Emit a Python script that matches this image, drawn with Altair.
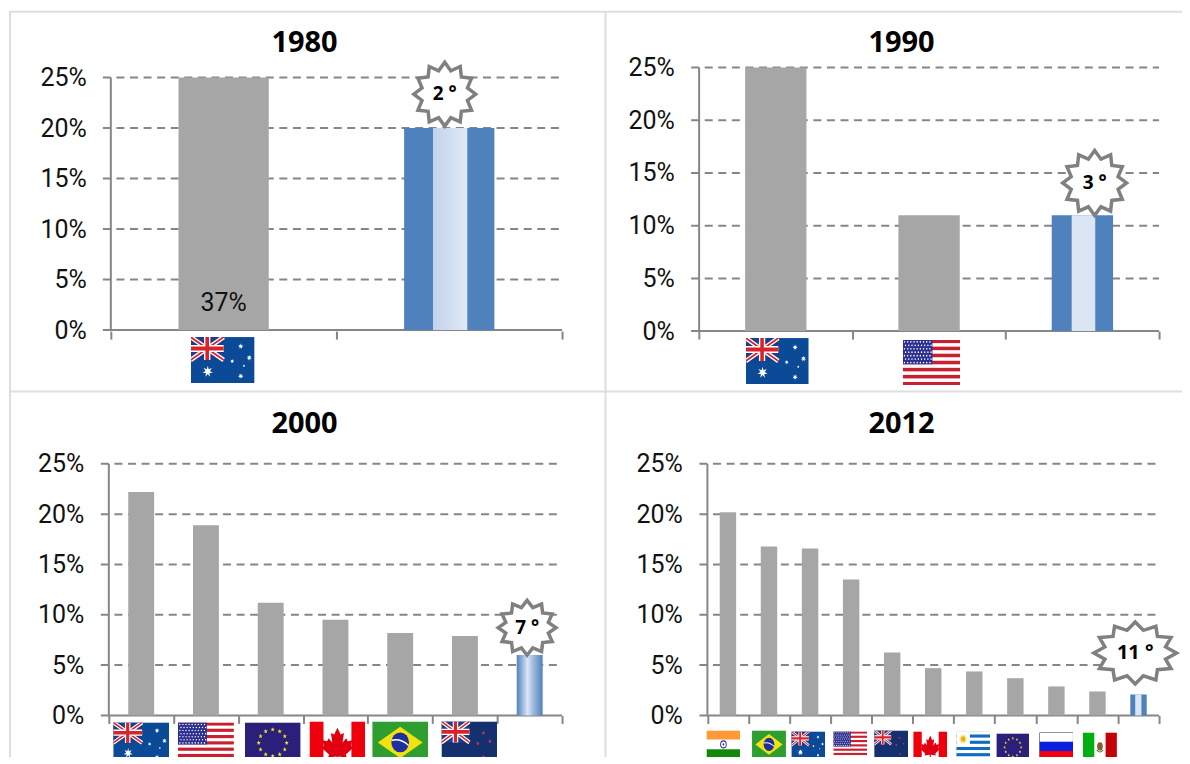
import base64
import math
import altair as alt
import pandas as pd

# ---------- data ----------
CATS_1980 = ["Australia", "Argentina"]
VALUES_1980 = [37, 20]
CATS_1990 = ["Australia", "USA", "Argentina"]
VALUES_1990 = [25, 11, 11]
CATS_2000 = ["Australia", "USA", "EU", "Canada", "Brazil", "New Zealand", "Argentina"]
VALUES_2000 = [22.2, 18.9, 11.2, 9.5, 8.2, 7.9, 6.0]
CATS_2012 = ["India", "Brazil", "Australia", "USA", "New Zealand", "Canada", "Uruguay",
             "EU", "Russia", "Mexico", "Argentina"]
VALUES_2012 = [20.2, 16.8, 16.6, 13.5, 6.25, 4.7, 4.37, 3.7, 2.88, 2.38, 2.08]
Y_TICKS = [0, 5, 10, 15, 20, 25]

GREY = "#A6A6A6"
BLUE = "#4F81BD"
LINE = "#868686"
FRAME = "#DEDEDE"
NARROW = "Roboto"
NARROW_SIZE = 25
BOLD = "Open Sans"


# ---------- flag artwork ----------
def star_pts(cx, cy, r, n=5, inner=0.42, rot=-90):
    pts = []
    for i in range(2 * n):
        a = math.radians(rot + i * 180 / n)
        rr = r if i % 2 == 0 else r * inner
        pts.append(f"{cx + rr * math.cos(a):.2f},{cy + rr * math.sin(a):.2f}")
    return " ".join(pts)


def star(cx, cy, r, fill="#fff", n=5):
    return f'<polygon points="{star_pts(cx, cy, r, n)}" fill="{fill}"/>'


def jack(w, h):
    return (
        f'<rect width="{w}" height="{h}" fill="#1F3C88"/>'
        f'<path d="M0 0L{w} {h}M{w} 0L0 {h}" stroke="#fff" stroke-width="{h*0.2}"/>'
        f'<path d="M0 0L{w} {h}M{w} 0L0 {h}" stroke="#D8232A" stroke-width="{h*0.08}"/>'
        f'<path d="M{w/2} 0V{h}M0 {h/2}H{w}" stroke="#fff" stroke-width="{h*0.3}"/>'
        f'<path d="M{w/2} 0V{h}M0 {h/2}H{w}" stroke="#D8232A" stroke-width="{h*0.17}"/>'
    )


def flag_au():
    return ('<rect width="60" height="40" fill="#0B4A96"/>' + jack(31, 20)
            + star(16, 30, 5, n=7) + star(47, 8, 2.6, n=7) + star(47, 34, 2.6, n=7)
            + star(55, 18, 2.6, n=7) + star(39, 21, 2, n=7) + star(50, 25, 1.3))


def flag_nz():
    return ('<rect width="60" height="40" fill="#14306F"/>' + jack(30, 20)
            + "".join(star(x, y, 2.2, "#C8384E") for x, y in [(45, 11), (52, 19), (39, 21), (45, 34)]))


def flag_us():
    s = '<rect width="60" height="40" fill="#fff"/>'
    for i in range(7):
        s += f'<rect y="{i*40/6.5:.2f}" width="60" height="3.08" fill="#C8202F"/>'
    s += '<rect width="31" height="21.5" fill="#2B2F8F"/>'
    for r in range(7):
        for c in range(9):
            s += f'<circle cx="{2 + c*3.3 + (r % 2)*1.2:.1f}" cy="{2 + r*3}" r="0.75" fill="#fff"/>'
    return s


def flag_eu():
    s = '<rect width="60" height="40" fill="#2A1F7A"/>'
    for i in range(12):
        a = math.radians(i * 30)
        s += star(30 + 15 * math.cos(a), 20 + 13 * math.sin(a), 2.4, "#F2E124")
    return s


def flag_ca():
    leaf = ("M30 6L33.5 12.5L37 11L35.5 20L39.5 16L41 19L46 18L44.5 23.5L47 25L39 31.5L40 34.5"
            "L31 33.5V40H29V33.5L20 34.5L21 31.5L13 25L15.5 23.5L14 18L19 19L20.5 16L24.5 20L23 11L26.5 12.5Z")
    return ('<rect width="60" height="40" fill="#fff"/>'
            '<rect width="15" height="40" fill="#F0000A"/><rect x="45" width="15" height="40" fill="#F0000A"/>'
            f'<path d="{leaf}" fill="#E00010"/>')


def flag_br():
    return ('<rect width="60" height="40" fill="#2E9E30"/>'
            '<polygon points="30,5 54,20 30,35 6,20" fill="#F4E20F"/>'
            '<circle cx="30" cy="20" r="9.5" fill="#1F2F9E"/>'
            '<path d="M21 18Q31 16 39 23" stroke="#fff" stroke-width="1.5" fill="none"/>')


def flag_in():
    return ('<rect width="60" height="40" fill="#fff"/>'
            '<rect width="60" height="13" fill="#FF9933"/><rect y="27" width="60" height="13" fill="#138808"/>'
            '<circle cx="30" cy="20" r="5" fill="none" stroke="#2B2F8F" stroke-width="1.6"/>'
            '<circle cx="30" cy="20" r="1.6" fill="#2B2F8F"/>')


def flag_uy():
    s = '<rect width="60" height="40" fill="#fff" stroke="#888" stroke-width="0.5"/>'
    for i in (1, 3, 5, 7):
        s += f'<rect y="{i*40/9:.2f}" width="60" height="4.44" fill="#0F6CC0"/>'
    s += '<rect width="24" height="22" fill="#fff"/>'
    s += star(12, 11, 8, "#F5C518", n=12) + '<circle cx="12" cy="11" r="3.6" fill="#E8B010"/>'
    return s


def flag_ru():
    return ('<rect width="60" height="40" fill="#fff"/><rect y="13.3" width="60" height="13.3" fill="#0A1FE0"/>'
            '<rect y="26.6" width="60" height="13.4" fill="#F00010"/>'
            '<rect width="60" height="40" fill="none" stroke="#222" stroke-width="1.6"/>')


def flag_mx():
    return ('<rect width="60" height="40" fill="#fff"/><rect width="20" height="40" fill="#00B010"/>'
            '<rect x="40" width="20" height="40" fill="#C40008"/>'
            '<ellipse cx="30" cy="20" rx="5" ry="6" fill="#8A5A30"/>'
            '<path d="M24 25Q30 31 36 25" stroke="#3F8A3F" stroke-width="1.6" fill="none"/>')


def uri(body):
    doc = ('<svg xmlns="http://www.w3.org/2000/svg" width="60" height="40" viewBox="0 0 60 40" '
           f'preserveAspectRatio="none">{body}</svg>')
    return "data:image/svg+xml;base64," + base64.b64encode(doc.encode()).decode()


FLAGS = {"Australia": flag_au, "USA": flag_us, "EU": flag_eu, "Canada": flag_ca, "Brazil": flag_br,
         "New Zealand": flag_nz, "India": flag_in, "Uruguay": flag_uy, "Russia": flag_ru, "Mexico": flag_mx}


def badge_path(rx, ry, points=12, inner=0.76):
    big = max(rx, ry)
    d = []
    for i in range(2 * points):
        a = -math.pi / 2 + i * math.pi / points
        k = 1 if i % 2 == 0 else inner
        d.append(f"{rx / big * k * math.cos(a):.4f},{ry / big * k * math.sin(a):.4f}")
    return "M" + "L".join(d) + "Z"


def h_gradient(stops):
    return alt.LinearGradient(gradient="linear", x1=0, x2=1, y1=0, y2=0,
                              stops=[alt.GradientStop(color=c, offset=o) for c, o in stops])


# ---------- one panel ----------
def panel(year, cats, values, x_start, width, y_range, height, title_x, title_y, label_pad,
          flag_layout, badge, stripe=None, gradient=False, extra=None, value_label=None):
    n = len(cats)
    sx = alt.Scale(domain=[0, n], range=[x_start, width], nice=False, zero=False)
    sy = alt.Scale(domain=[0, 25], range=y_range, nice=False, clamp=True)
    ax_x = alt.Axis(title=None, labels=False, grid=False, domain=False, values=list(range(n + 1)),
                    tickSize=8, tickWidth=2, tickColor=LINE)
    ax_y = alt.Axis(title=None, grid=False, domain=False, ticks=False, values=Y_TICKS,
                    labelExpr="datum.value + '%'", labelFont=NARROW, labelFontSize=NARROW_SIZE,
                    labelColor="#111111", labelPadding=label_pad)

    def X(f):
        return alt.X(f"{f}:Q", scale=sx, axis=ax_x)

    def Y(f):
        return alt.Y(f"{f}:Q", scale=sy, axis=ax_y)

    bars = pd.DataFrame({"cat": cats, "value": values,
                         "x0": [i + 0.3 for i in range(n)], "x1": [i + 0.7 for i in range(n)],
                         "base": [0] * n})
    grid = pd.DataFrame({"y": Y_TICKS[1:], "a": [0] * 5, "b": [n] * 5})
    zero = pd.DataFrame({"y": [0], "a": [0], "b": [n]})
    spine = pd.DataFrame({"a": [0], "y0": [0], "y1": [25]})

    layers = list(extra or [])
    layers.append(alt.Chart(grid).mark_rule(color=LINE, strokeWidth=2, strokeDash=[8, 5.6], xOffset=-8)
                  .encode(x=X("a"), x2=alt.X2("b"), y=Y("y")))
    layers.append(alt.Chart(zero).mark_rule(color=LINE, strokeWidth=2, xOffset=-8)
                  .encode(x=X("a"), x2=alt.X2("b"), y=Y("y")))
    layers.append(alt.Chart(spine).mark_rule(color=LINE, strokeWidth=2)
                  .encode(x=X("a"), y=Y("y0"), y2=alt.Y2("y1")))

    grey = bars.iloc[:-1]
    last = bars.iloc[[-1]]
    layers.append(alt.Chart(grey).mark_rect(color=GREY)
                  .encode(x=X("x0"), x2=alt.X2("x1"), y=Y("value"), y2=alt.Y2("base")))
    if gradient:
        fill = h_gradient([(BLUE, 0), ("#DCE6F4", 0.42), ("#A9C0DF", 0.6), (BLUE, 1)])
        layers.append(alt.Chart(last).mark_rect(color=fill)
                      .encode(x=X("x0"), x2=alt.X2("x1"), y=Y("value"), y2=alt.Y2("base")))
    else:
        layers.append(alt.Chart(last).mark_rect(color=BLUE)
                      .encode(x=X("x0"), x2=alt.X2("x1"), y=Y("value"), y2=alt.Y2("base")))
        left, right, c0, c1 = stripe
        st = last.assign(sa=n - 1 + 0.3 + 0.4 * left, sb=n - 1 + 0.3 + 0.4 * right)
        layers.append(alt.Chart(st).mark_rect(color=h_gradient([(c0, 0), (c1, 1)]))
                      .encode(x=X("sa"), x2=alt.X2("sb"), y=Y("value"), y2=alt.Y2("base")))

    # flags under the axis
    for i, (code, dx, dy, w, h) in enumerate(flag_layout):
        d = pd.DataFrame({"x": [i + 0.5], "y": [0], "img": [uri(FLAGS[code]())]})
        layers.append(alt.Chart(d).mark_image(width=w, height=h, aspect=False, align="center",
                                              baseline="top", xOffset=dx, yOffset=dy)
                      .encode(x=X("x"), y=Y("y"), url="img:N"))

    # rank badge
    bx, by, rx, ry, label, size = badge
    b = pd.DataFrame({"x": [bx], "y": [by], "t": [label]})
    layers.append(alt.Chart(b).mark_point(shape=badge_path(rx, ry), size=(2 * max(rx, ry)) ** 2,
                                          filled=True, fill="#FFFFFF", stroke="#808080",
                                          strokeWidth=3.5, opacity=1, strokeJoin="miter")
                  .encode(x=X("x"), y=Y("y")))
    layers.append(alt.Chart(b).mark_text(font=BOLD, fontWeight="bold", fontSize=size, color="#000000",
                                         align="center", baseline="middle")
                  .encode(x=X("x"), y=Y("y"), text="t:N"))

    if value_label:
        vx, vy, vt = value_label
        lab = pd.DataFrame({"x": [vx], "y": [vy], "t": [vt]})
        layers.append(alt.Chart(lab).mark_text(font=NARROW, fontSize=NARROW_SIZE, color="#111111")
                      .encode(x=X("x"), y=Y("y"), text="t:N"))

    # panel title
    t = pd.DataFrame({"t": [year]})
    layers.append(alt.Chart(t).mark_text(font=BOLD, fontWeight="bold", fontSize=29, color="#000000",
                                         align="center", baseline="alphabetic")
                  .encode(x=alt.value(title_x), y=alt.value(title_y), text="t:N"))
    return alt.layer(*layers).properties(width=width, height=height)


# table frame, page pixel positions minus the first panel's origin
frame_df = pd.DataFrame({"k": [0]})
frame = [
    alt.Chart(frame_df).mark_rule(color=FRAME, strokeWidth=2).encode(x=alt.value(-99), y=alt.value(-56), y2=alt.value(697)),
    alt.Chart(frame_df).mark_rule(color=FRAME, strokeWidth=2).encode(x=alt.value(497.5), y=alt.value(-56), y2=alt.value(697)),
    alt.Chart(frame_df).mark_rule(color=FRAME, strokeWidth=2).encode(x=alt.value(-100), x2=alt.value(1082), y=alt.value(-56)),
    alt.Chart(frame_df).mark_rule(color=FRAME, strokeWidth=2).encode(x=alt.value(-100), x2=alt.value(1082), y=alt.value(324.5)),
]

p1 = panel("1980", CATS_1980, VALUES_1980, 2, 454, [263, 10], 264, 196, -16, 22.5,
           [("Australia", -1, 7, 64, 46)],
           (1.48, 23.35, 31, 32, "2 °", 19), stripe=(0.32, 0.7, "#C3D3ED", "#E0E8F5"), extra=frame,
           value_label=(0.5, 2.7, "37%"))
p2 = panel("1990", CATS_1990, VALUES_1990, 1.3, 462, [264, 0], 264, 204, -16, 23.5,
           [("Australia", 1.5, 7, 63, 46), ("USA", 2.4, 8.5, 58, 46)],
           (2.58, 14.05, 32, 32.5, "3 °", 19), stripe=(0.325, 0.71, "#DCE5F4", "#DCE5F4"))
p3 = panel("2000", CATS_2000, VALUES_2000, 0, 454, [252, 0], 252, 196, -31, 25,
           [("Australia", 0, 7, 56, 41), ("USA", 0, 7, 56, 41), ("EU", 2, 7, 56, 41),
            ("Canada", 2, 6, 56, 42), ("Brazil", 0, 6, 56, 42), ("New Zealand", 4.5, 6, 56, 42)],
           (6.46, 8.71, 29, 27.5, "7 °", 19), gradient=True)
p4 = panel("2012", CATS_2012, VALUES_2012, 9.6, 462, [252, 0], 252, 204, -31, 15.6,
           [("India", -4.5, 15, 34, 28), ("Brazil", 0, 15, 34, 28), ("Australia", -1.7, 16, 34, 28),
            ("USA", -0.8, 16, 34, 28), ("New Zealand", -1, 15, 34, 28), ("Canada", -3, 16, 34, 28),
            ("Uruguay", -1, 16, 34, 28), ("EU", -2.5, 18, 33, 28), ("Russia", 0, 17, 34, 28),
            ("Mexico", 2.5, 17, 34, 28)],
           (10.42, 6.2, 41.4, 31, "11 °", 20), stripe=(0.3, 0.68, "#DCE5F4", "#DCE5F4"))

chart = alt.concat(p1, p2, p3, p4, columns=2, spacing={"row": 133, "column": 136},
                   bounds="flush", align="each").properties(
    padding={"left": 0, "top": 2, "right": -8, "bottom": -8},
    background="#FFFFFF",
).configure_view(stroke=None)

chart.save("out.html", embed_options={"renderer": "svg", "actions": False})
